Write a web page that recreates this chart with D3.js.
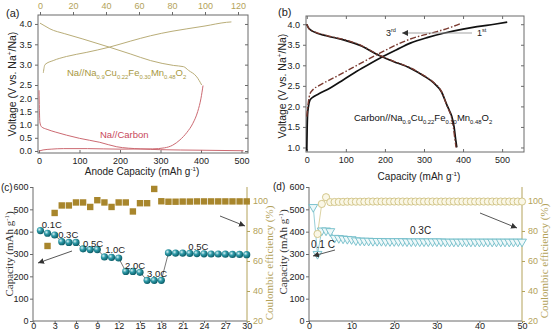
<!DOCTYPE html>
<html>
<head>
<meta charset="utf-8">
<script src="https://cdn.jsdelivr.net/npm/d3@7"></script>
<style>
  body { margin: 0; background: #fff; }
  svg { display: block; }
</style>
</head>
<body>
<div id="chart"></div>
<script>
// ---------- data: panel (a), half cells ----------
const cathodeChargeCap = [2, 3, 8, 16, 28, 42, 55, 67, 80, 89, 100, 113, 116];
const cathodeChargeV   = [2.80, 3.0, 3.1, 3.2, 3.3, 3.43, 3.58, 3.71, 3.82, 3.88, 3.95, 4.04, 4.05];
const cathodeDisCap    = [0, 3, 6, 15, 26, 42, 55, 67, 81, 87, 90, 95, 98];
const cathodeDisV      = [4.02, 3.95, 3.88, 3.76, 3.63, 3.43, 3.26, 3.10, 2.98, 2.95, 2.86, 2.7, 2.5];
const anodeDisCap      = [0, 1, 2, 6, 20, 40, 68, 100, 150, 192, 250, 300, 400, 505];
const anodeDisV        = [2.3, 1.6, 1.1, 0.92, 0.82, 0.72, 0.6, 0.48, 0.33, 0.16, 0.08, 0.05, 0.03, 0.01];
const anodeChCap       = [0, 10, 30, 60, 120, 200, 280, 310, 330, 348, 365, 380, 392, 400, 405];
const anodeChV         = [0.0, 0.04, 0.07, 0.09, 0.09, 0.07, 0.08, 0.12, 0.22, 0.42, 0.7, 1.05, 1.5, 2.0, 2.48];

// ---------- data: panel (b), full cell ----------
const charge1Cap = [0, 1, 2, 4, 8, 15, 30, 60, 94, 140, 188, 230, 265, 310, 350, 400, 436, 480, 513];
const charge1V   = [0.92, 1.5, 1.8, 1.98, 2.15, 2.22, 2.3, 2.45, 2.65, 2.92, 3.18, 3.38, 3.54, 3.68, 3.78, 3.88, 3.94, 4.0, 4.05];
const charge3Cap = [0, 1, 2, 4, 8, 15, 30, 60, 94, 140, 188, 230, 265, 300, 333, 370, 397];
const charge3V   = [1.75, 1.85, 1.95, 2.1, 2.3, 2.4, 2.5, 2.65, 2.82, 3.06, 3.30, 3.50, 3.64, 3.74, 3.82, 3.93, 4.03];
const dis1Cap    = [0, 5, 17, 50, 94, 140, 179, 220, 265, 300, 325, 345, 358, 365, 371, 377, 381, 384];
const dis1V      = [4.0, 3.9, 3.82, 3.72, 3.62, 3.47, 3.27, 3.10, 2.93, 2.74, 2.57, 2.35, 2.05, 1.9, 1.76, 1.5, 1.2, 1.0];
const dis3Cap    = [0, 5, 17, 50, 94, 140, 179, 220, 265, 300, 325, 345, 357, 364, 370, 375, 379, 382];
const dis3V      = [4.0, 3.9, 3.83, 3.73, 3.63, 3.48, 3.28, 3.11, 2.94, 2.75, 2.58, 2.36, 2.06, 1.9, 1.75, 1.5, 1.2, 1.0];

// ---------- data: panel (c), rate test ----------
const rateCycles = d3.range(1, 31);
const rateCap = [405, 393, 385, 355, 352, 352, 323, 320, 320, 287, 285, 282, 222, 222, 218,
                 182, 182, 182, 305, 304, 304, 303, 302, 301, 300, 300, 299, 298, 298, 297];
const rateCECycles = d3.range(2, 31);
const rateCE = [70, 92, 97, 97, 99, 99, 96, 100.5, 99, 96, 99, 99, 93, 98.5, 98.5, 108,
                99.8, 99.5, 99.5, 99.6, 99.6, 99.7, 99.7, 99.7, 99.7, 99.7, 99.7, 99.7, 99.7];
const rateLabels = ["0.1C", "0.3C", "0.5C", "1.0C", "2.0C", "3.0C", "0.5C"];
const rateLabelCycle = [1.2, 3.5, 7.0, 10.1, 12.9, 16.0, 21.8];
const rateLabelCap   = [416, 372, 331, 305, 235, 199, 320];

// ---------- data: panel (d), cycling at 0.3C ----------
const cycCycles = d3.range(1, 51);
const cycCap = [510, 300, 405, 405, 402, 372, 371, 369, 367, 366, 361, 360, 359, 359, 358,
                358, 358, 357, 357, 357, 357, 357, 356, 356, 356, 356, 356, 356, 356, 356,
                356, 355, 355, 355, 355, 355, 355, 355, 355, 355, 355, 355, 355, 355, 355,
                355, 355, 355, 355, 355];
const cycCECycles = d3.range(2, 51);
const cycCE = [78, 98, 102.5, 99.2, 99.3, 99.4, 99.4, 99.5, 99.5, 99.5, 99.5, 99.5, 99.6, 99.6,
               99.6, 99.6, 99.6, 99.6, 99.6, 99.6, 99.6, 99.6, 99.6, 99.6, 99.6, 99.6, 99.6,
               99.6, 99.6, 99.6, 99.6, 99.6, 99.6, 99.6, 99.6, 99.6, 99.6, 99.6, 99.6, 99.6,
               99.6, 99.6, 99.6, 99.6, 99.6, 99.6, 99.6, 99.6, 99.6];

// ---------- setup ----------
const SANS = '"Liberation Sans", Arial, sans-serif';
const SERIF = '"Liberation Serif", "Times New Roman", serif';
const OLIVE = "#b3a25a";
const AXIS = "#6a6a6a";

const svg = d3.select("#chart").append("svg")
  .attr("width", 554).attr("height", 332)
  .style("font-family", SANS);

const defs = svg.append("defs");
const grad = defs.append("radialGradient").attr("id", "ball")
  .attr("cx", "35%").attr("cy", "35%").attr("r", "65%");
grad.append("stop").attr("offset", "0%").attr("stop-color", "#d8f2f4");
grad.append("stop").attr("offset", "45%").attr("stop-color", "#2e9aa8");
grad.append("stop").attr("offset", "100%").attr("stop-color", "#0d5f6a");
defs.append("marker").attr("id", "arrow")
  .attr("viewBox", "0 0 6 6").attr("refX", 6).attr("refY", 3)
  .attr("markerWidth", 6).attr("markerHeight", 6)
  .attr("markerUnits", "userSpaceOnUse").attr("orient", "auto")
  .append("path").attr("d", "M0,0L6,3L0,6z").attr("fill", "#333");

const zip = (a, b) => a.map((v, i) => [v, b[i]]);

// text with sub/superscripts: parts = [[text, kind]]
function rich(sel, parts, size) {
  let shift = 0;
  parts.forEach(([t, k]) => {
    const small = k === "sub" || k === "sup";
    const target = k === "sub" ? size * 0.3 : k === "sup" ? -size * 0.4 : 0;
    sel.append("tspan").attr("dy", target - shift)
      .attr("font-size", small ? size * 0.62 : size).text(t);
    shift = target;
  });
  return sel;
}

function styleAxis(g, color, fs, font) {
  g.attr("font-size", fs).attr("font-family", font || SANS);
  g.select(".domain").remove();
  g.selectAll(".tick line").attr("stroke", AXIS);
  g.selectAll(".tick text").attr("fill", color);
  return g;
}

function frameLine(x1, y1, x2, y2) {
  svg.append("line").attr("x1", x1).attr("y1", y1).attr("x2", x2).attr("y2", y2)
    .attr("stroke", AXIS).attr("stroke-width", 1);
}

function arrow(x1, y1, x2, y2, color) {
  svg.append("line").attr("x1", x1).attr("y1", y1).attr("x2", x2).attr("y2", y2)
    .attr("stroke", color || "#444").attr("stroke-width", 0.9)
    .attr("marker-end", "url(#arrow)");
}

// ================= panel (a) =================
const ax = d3.scaleLinear().domain([0, 500]).range([39, 241.5]);
const axTop = d3.scaleLinear().domain([0, 120]).range([40, 238]);
const ay = d3.scaleLinear().domain([0, 2.5, 4.22]).range([151, 85, 15]);
const voltTicksA = d3.range(0, 4.01, 0.5);

svg.append("rect").attr("x", 38).attr("y", 15).attr("width", 210).attr("height", 138)
  .attr("fill", "none").attr("stroke", AXIS);

styleAxis(svg.append("g").attr("transform", "translate(0,153)")
  .call(d3.axisBottom(ax).tickValues(d3.range(0, 501, 100)).tickSize(-3).tickPadding(5)), "#222", 9);
styleAxis(svg.append("g").attr("transform", "translate(38,0)")
  .call(d3.axisLeft(ay).tickValues(voltTicksA).tickSize(3).tickFormat(d3.format(".1f"))), "#222", 9);
styleAxis(svg.append("g").attr("transform", "translate(248,0)")
  .call(d3.axisLeft(ay).tickValues(voltTicksA).tickSize(3).tickFormat("")), "#222", 9);
styleAxis(svg.append("g").attr("transform", "translate(0,15)")
  .call(d3.axisTop(axTop).tickValues(d3.range(0, 121, 20)).tickSize(3)), OLIVE, 9);

const lineA = d3.line().x(d => ax(d[0])).y(d => ay(d[1])).curve(d3.curveMonotoneX);
const lineATop = d3.line().x(d => axTop(d[0])).y(d => ay(d[1])).curve(d3.curveMonotoneX);

svg.append("path").attr("d", lineATop(zip(cathodeChargeCap, cathodeChargeV)))
  .attr("fill", "none").attr("stroke", "#b9ad78").attr("stroke-width", 1);
svg.append("path").attr("d", lineATop(zip(cathodeDisCap, cathodeDisV)))
  .attr("fill", "none").attr("stroke", "#b9ad78").attr("stroke-width", 1);
svg.append("path").attr("d", lineA(zip(anodeDisCap, anodeDisV)))
  .attr("fill", "none").attr("stroke", "#cc6a72").attr("stroke-width", 1);
svg.append("path").attr("d", lineA(zip(anodeChCap, anodeChV)))
  .attr("fill", "none").attr("stroke", "#cc6a72").attr("stroke-width", 1);

rich(svg.append("text").attr("x", 67).attr("y", 76).attr("fill", "#a8983e"),
  [["Na//Na"], ["0.9", "sub"], ["Cu"], ["0.22", "sub"], ["Fe"], ["0.30", "sub"],
   ["Mn"], ["0.48", "sub"], ["O"], ["2", "sub"]], 9.5);
svg.append("text").attr("x", 100).attr("y", 138).attr("fill", "#c8485a")
  .attr("font-size", 9.5).text("Na//Carbon");

rich(svg.append("text").attr("transform", "translate(16,84) rotate(-90)")
  .attr("text-anchor", "middle").attr("fill", "#222"),
  [["Voltage (V vs. Na"], ["+", "sup"], ["/Na)"]], 10.5);
rich(svg.append("text").attr("x", 142).attr("y", 175).attr("text-anchor", "middle").attr("fill", "#222"),
  [["Anode Capacity (mAh g"], ["-1", "sup"], [")"]], 10);
svg.append("text").attr("x", 6).attr("y", 17).attr("font-size", 11).attr("fill", "#222").text("(a)");

// ================= panel (b) =================
const bx = d3.scaleLinear().domain([-2, 556]).range([306, 524]);
const by = d3.scaleLinear().domain([0.89, 4.2]).range([152, 16]);

svg.append("rect").attr("x", 306).attr("y", 16).attr("width", 218).attr("height", 136)
  .attr("fill", "none").attr("stroke", AXIS);
styleAxis(svg.append("g").attr("transform", "translate(0,152)")
  .call(d3.axisBottom(bx).tickValues(d3.range(0, 501, 100)).tickSize(-3).tickPadding(5)), "#222", 9);
styleAxis(svg.append("g").attr("transform", "translate(306,0)")
  .call(d3.axisLeft(by).tickValues(d3.range(1, 4.01, 0.5)).tickSize(3).tickFormat(d3.format(".1f"))), "#222", 9);
styleAxis(svg.append("g").attr("transform", "translate(524,0)")
  .call(d3.axisLeft(by).tickValues(d3.range(1, 4.01, 0.5)).tickSize(3).tickFormat("")), "#222", 9);
styleAxis(svg.append("g").attr("transform", "translate(0,16)")
  .call(d3.axisBottom(bx).tickValues(d3.range(0, 501, 100)).tickSize(3).tickFormat("")), "#222", 9);

const lineB = d3.line().x(d => bx(d[0])).y(d => by(d[1])).curve(d3.curveMonotoneX);
svg.append("path").attr("d", lineB(zip(dis1Cap, dis1V)))
  .attr("fill", "none").attr("stroke", "#111").attr("stroke-width", 1.7);
svg.append("path").attr("d", lineB(zip(charge1Cap, charge1V)))
  .attr("fill", "none").attr("stroke", "#111").attr("stroke-width", 1.7);
svg.append("path").attr("d", lineB(zip(dis3Cap, dis3V)))
  .attr("fill", "none").attr("stroke", "#7a3a30").attr("stroke-width", 1.3)
  .attr("stroke-dasharray", "6,2,1.5,2");
svg.append("path").attr("d", lineB(zip(charge3Cap, charge3V)))
  .attr("fill", "none").attr("stroke", "#7a3a30").attr("stroke-width", 1.4)
  .attr("stroke-dasharray", "6,2,1.5,2");

rich(svg.append("text").attr("x", 386).attr("y", 36).attr("fill", "#222"),
  [["3"], ["rd", "sup"]], 9);
svg.append("line").attr("x1", 472).attr("y1", 33).attr("x2", 402).attr("y2", 33)
  .attr("stroke", "#999").attr("stroke-width", 0.9).attr("marker-end", "url(#arrow)");
rich(svg.append("text").attr("x", 477).attr("y", 36).attr("fill", "#222"),
  [["1"], ["st", "sup"]], 9);
rich(svg.append("text").attr("x", 354).attr("y", 121).attr("fill", "#111"),
  [["Carbon//Na"], ["0.9", "sub"], ["Cu"], ["0.22", "sub"], ["Fe"], ["0.30", "sub"],
   ["Mn"], ["0.48", "sub"], ["O"], ["2", "sub"]], 9.5);

rich(svg.append("text").attr("transform", "translate(286,86) rotate(-90)")
  .attr("text-anchor", "middle").attr("fill", "#222"),
  [["Voltage (V vs. Na"], ["+", "sup"], ["/Na)"]], 10.5);
rich(svg.append("text").attr("x", 419).attr("y", 180).attr("text-anchor", "middle").attr("fill", "#222"),
  [["Capacity (mAh g"], ["-1", "sup"], [")"]], 10);
svg.append("text").attr("x", 278).attr("y", 16).attr("font-size", 11).attr("fill", "#222").text("(b)");

// ================= panel (c) =================
const cx = d3.scaleLinear().domain([0, 30]).range([33.3, 246.7]);
const cy = d3.scaleLinear().domain([0, 600]).range([321, 187]);
const cCE = d3.scaleLinear().domain([20, 109.3]).range([321, 187]);

frameLine(33, 187, 33, 321);
frameLine(33, 321, 247, 321);
svg.append("line").attr("x1", 247).attr("y1", 187).attr("x2", 247).attr("y2", 321)
  .attr("stroke", OLIVE);
styleAxis(svg.append("g").attr("transform", "translate(0,321)")
  .call(d3.axisBottom(cx).tickValues(d3.range(0, 31, 3)).tickSize(2).tickPadding(0)), "#222", 9);
styleAxis(svg.append("g").attr("transform", "translate(33,0)")
  .call(d3.axisLeft(cy).tickValues(d3.range(0, 601, 100)).tickSize(3).tickPadding(1.5)), "#222", 9);
const cR = styleAxis(svg.append("g").attr("transform", "translate(247,0)")
  .call(d3.axisRight(cCE).tickValues(d3.range(20, 101, 20)).tickSize(3)), OLIVE, 9);
cR.selectAll(".tick line").attr("stroke", OLIVE);

svg.append("path").attr("d", d3.line().x(d => cx(d[0])).y(d => cy(d[1]))(zip(rateCycles, rateCap)))
  .attr("fill", "none").attr("stroke", "#555").attr("stroke-width", 0.8);
svg.append("g").selectAll("rect").data(zip(rateCECycles, rateCE)).join("rect")
  .attr("x", d => cx(d[0]) - 3.2).attr("y", d => cCE(d[1]) - 3.2)
  .attr("width", 6.4).attr("height", 6.4).attr("fill", "#a8862c");
svg.append("g").selectAll("circle").data(zip(rateCycles, rateCap)).join("circle")
  .attr("cx", d => cx(d[0])).attr("cy", d => cy(d[1])).attr("r", 3.6)
  .attr("fill", "url(#ball)");

svg.append("g").selectAll("text").data(rateLabels).join("text")
  .attr("x", (d, i) => cx(rateLabelCycle[i])).attr("y", (d, i) => cy(rateLabelCap[i]))
  .attr("font-size", 9.5).attr("fill", "#222").text(d => d);

arrow(72, 251, 38, 263);
arrow(220, 216, 245, 226);

rich(svg.append("text").attr("transform", "translate(13,254) rotate(-90)")
  .attr("text-anchor", "middle").attr("fill", "#333").attr("font-family", SERIF),
  [["Capacity (mAh g"], ["-1", "sup"], [")"]], 11);
svg.append("text").attr("transform", "translate(273,263) rotate(-90)")
  .attr("text-anchor", "middle").attr("fill", OLIVE).attr("font-family", SERIF)
  .attr("font-size", 11).text("Coulombic efficiency (%)");
svg.append("text").attr("x", 1).attr("y", 191).attr("font-size", 10).attr("fill", "#222").text("(c)");

// ================= panel (d) =================
const dx = d3.scaleLinear().domain([0, 50]).range([309, 522]);
const dy = d3.scaleLinear().domain([0, 600]).range([321, 187]);
const dCE = d3.scaleLinear().domain([20, 109.3]).range([321, 187]);

frameLine(309, 187, 309, 321);
frameLine(309, 321, 522, 321);
svg.append("line").attr("x1", 522).attr("y1", 187).attr("x2", 522).attr("y2", 321)
  .attr("stroke", OLIVE);
styleAxis(svg.append("g").attr("transform", "translate(0,321)")
  .call(d3.axisBottom(dx).tickValues(d3.range(0, 51, 10)).tickSize(2).tickPadding(0)), "#222", 9);
styleAxis(svg.append("g").attr("transform", "translate(309,0)")
  .call(d3.axisLeft(dy).tickValues(d3.range(0, 601, 100)).tickSize(3).tickPadding(1.5)), "#222", 9);
const dR = styleAxis(svg.append("g").attr("transform", "translate(522,0)")
  .call(d3.axisRight(dCE).tickValues(d3.range(20, 101, 20)).tickSize(3)), OLIVE, 9);
dR.selectAll(".tick line").attr("stroke", OLIVE);

svg.append("path").attr("d", d3.line().x(d => dx(d[0])).y(d => dy(d[1]))(zip(cycCycles, cycCap)))
  .attr("fill", "none").attr("stroke", "#7cc2cc").attr("stroke-width", 0.8);
svg.append("path").attr("d", d3.line().x(d => dx(d[0])).y(d => dCE(d[1]))(zip(cycCECycles, cycCE)))
  .attr("fill", "none").attr("stroke", "#d2c78a").attr("stroke-width", 0.8);
const tri = d3.symbol(d3.symbolTriangle, 34);
svg.append("g").selectAll("path").data(zip(cycCycles, cycCap)).join("path")
  .attr("d", tri)
  .attr("transform", d => `translate(${dx(d[0])},${dy(d[1])}) rotate(180)`)
  .attr("fill", "#eef8f9").attr("stroke", "#6fbcc8").attr("stroke-width", 0.9);
svg.append("g").selectAll("circle").data(zip(cycCECycles, cycCE)).join("circle")
  .attr("cx", d => dx(d[0])).attr("cy", d => dCE(d[1])).attr("r", 3.6)
  .attr("fill", "#faf7e6").attr("stroke", "#cfc282").attr("stroke-width", 0.9);

svg.append("text").attr("x", 311).attr("y", 248).attr("font-size", 10).attr("fill", "#222").text("0.1 C");
svg.append("text").attr("x", 410).attr("y", 234).attr("font-size", 10).attr("fill", "#222").text("0.3C");
arrow(335, 250, 313, 256);
arrow(480, 213, 517, 228);

rich(svg.append("text").attr("transform", "translate(287,252) rotate(-90)")
  .attr("text-anchor", "middle").attr("fill", "#333").attr("font-family", SERIF),
  [["Capacity (mAh g"], ["-1", "sup"], [")"]], 11);
svg.append("text").attr("transform", "translate(548,261) rotate(-90)")
  .attr("text-anchor", "middle").attr("fill", OLIVE).attr("font-family", SERIF)
  .attr("font-size", 11).text("Coulombic efficiency (%)");
svg.append("text").attr("x", 273).attr("y", 190).attr("font-size", 10).attr("fill", "#222").text("(d)");
</script>
</body>
</html>
